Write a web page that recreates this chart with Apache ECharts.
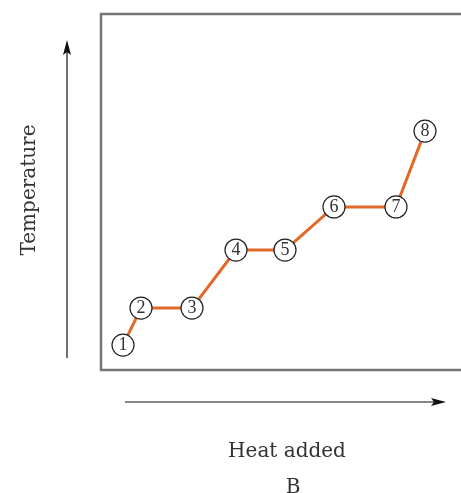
<!DOCTYPE html>
<html><head><meta charset="utf-8">
<script src="https://cdn.jsdelivr.net/npm/echarts@6/dist/echarts.min.js"></script>
<style>html,body{margin:0;padding:0;background:#fff;overflow:hidden}#c{width:510px;height:493px}</style>
</head><body><div id="c"></div>
<script>
const pointLabels = ['1','2','3','4','5','6','7','8'];
const heatValues = [5.5, 10, 22.75, 33.75, 46, 58.25, 73.75, 81];
const tempValues = [7.0, 17.4, 17.4, 33.7, 33.7, 45.8, 45.8, 67.1];
const xTitle = 'Heat added';
const yTitle = 'Temperature';
const subLabel = 'B';

const serif = '"DejaVu Serif", "Liberation Serif", serif';
const numSerif = '"Liberation Serif", "DejaVu Serif", serif';
const chart = echarts.init(document.getElementById('c'), null, {renderer:'canvas'});
chart.setOption({
  animation:false,
  grid:{left:101, top:14, width:400, height:356, show:true, borderColor:'#767676', borderWidth:2.5, backgroundColor:'transparent'},
  xAxis:{type:'value', min:0, max:100, show:false},
  yAxis:{type:'value', min:0, max:100, show:false},
  series:[{
    type:'line',
    data: heatValues.map((x,i)=>[x, tempValues[i], pointLabels[i]]),
    lineStyle:{color:'#e3692a', width:3},
    symbol:'circle', symbolSize:22,
    itemStyle:{color:'#fff', borderColor:'#222', borderWidth:1.2},
    label:{show:true, position:'inside', formatter:p=>p.data[2], fontFamily:numSerif, fontSize:18, color:'#333'},
    z:3
  }],
  graphic:[
    {type:'line', shape:{x1:67, y1:358, x2:67, y2:50}, style:{stroke:'#111', lineWidth:1.2}},
    {type:'polygon', shape:{points:[[67,40],[63,55],[67,52],[71,55]]}, style:{fill:'#111'}},
    {type:'line', shape:{x1:125, y1:402, x2:437, y2:402}, style:{stroke:'#111', lineWidth:1.2}},
    {type:'polygon', shape:{points:[[446,402],[431,398],[434,402],[431,406]]}, style:{fill:'#111'}},
    {type:'text', x:30, y:190, rotation:Math.PI/2, style:{text:yTitle, font:'20px '+serif, fill:'#333', align:'center', verticalAlign:'middle'}},
    {type:'text', x:287, y:452, style:{text:xTitle, font:'20px '+serif, fill:'#333', align:'center', verticalAlign:'middle'}},
    {type:'text', x:293, y:488, style:{text:subLabel, font:'20px '+serif, fill:'#333', align:'center', verticalAlign:'middle'}}
  ]
});
</script></body></html>
